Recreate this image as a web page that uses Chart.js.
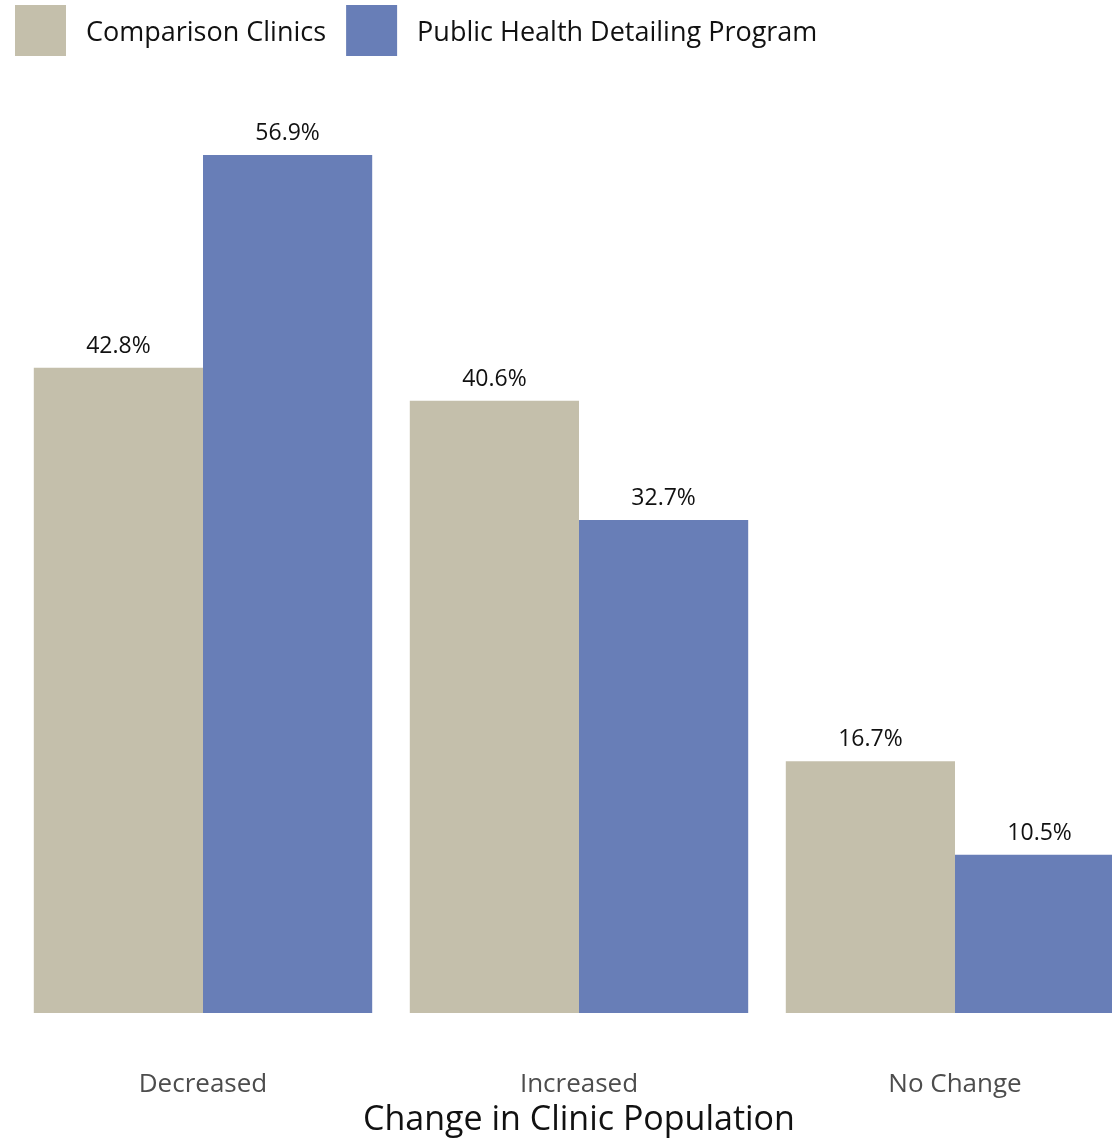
<!DOCTYPE html>
<html lang="en">
<head>
  <meta charset="UTF-8" />
  <title>Change in Clinic Population</title>
  <script src="https://cdn.jsdelivr.net/npm/chart.js"></script>
  <style>
    html, body { margin: 0; padding: 0; background: #fff; overflow: hidden; }
    #wrap { width: 1150px; height: 1141px; position: relative; }
  </style>
</head>
<body>
  <div id="wrap"><canvas id="chart"></canvas></div>

  <script>
    const categories = ['Decreased', 'Increased', 'No Change'];
    const seriesNames = ['Comparison Clinics', 'Public Health Detailing Program'];
    const comparison = [42.8, 40.6, 16.7];
    const detailing = [56.9, 32.7, 10.5];
    const colors = ['#c4bfab', '#687eb7'];

    const FONT = "'Open Sans', 'DejaVu Sans', sans-serif";

    // percent value above each bar
    const valueLabels = {
      id: 'valueLabels',
      afterDatasetsDraw(chart) {
        const ctx = chart.ctx;
        ctx.save();
        ctx.font = '23px ' + FONT;
        ctx.fillStyle = '#111';
        ctx.textAlign = 'center';
        ctx.textBaseline = 'bottom';
        chart.data.datasets.forEach((ds, i) => {
          chart.getDatasetMeta(i).data.forEach((bar, j) => {
            ctx.fillText(ds.data[j].toFixed(1) + '%', bar.x, bar.y - 10);
          });
        });
        ctx.restore();
      }
    };

    // legend row at the top-left, ggplot style (big squares)
    const topLegend = {
      id: 'topLegend',
      afterDraw(chart) {
        const ctx = chart.ctx;
        ctx.save();
        ctx.font = '27px ' + FONT;
        ctx.textBaseline = 'middle';
        ctx.textAlign = 'left';
        let x = 15;
        chart.data.datasets.forEach(ds => {
          ctx.fillStyle = ds.backgroundColor;
          ctx.fillRect(x, 5, 51, 51);
          x += 51 + 20;
          ctx.fillStyle = '#111';
          ctx.fillText(ds.label, x, 33);
          x += ctx.measureText(ds.label).width + 20;
        });
        ctx.restore();
      }
    };

    new Chart(document.getElementById('chart'), {
      type: 'bar',
      data: {
        labels: categories,
        datasets: [
          { label: seriesNames[0], data: comparison, backgroundColor: colors[0] },
          { label: seriesNames[1], data: detailing, backgroundColor: colors[1] }
        ]
      },
      plugins: [valueLabels, topLegend],
      options: {
        responsive: true,
        maintainAspectRatio: false,
        animation: false,
        categoryPercentage: 0.9,
        barPercentage: 1,
        layout: { padding: { left: 15, right: 7, top: 70, bottom: 0 } },
        plugins: {
          legend: { display: false },
          tooltip: { enabled: false }
        },
        scales: {
          x: {
            grid: { display: false, drawTicks: false },
            border: { display: false },
            ticks: { color: '#4d4d4d', padding: 0, font: { family: FONT, size: 26 } },
            title: {
              display: true,
              text: 'Change in Clinic Population',
              color: '#111',
              padding: 0,
              font: { family: FONT, size: 34 }
            }
          },
          y: {
            display: false,
            min: -3.71,
            max: 62.54
          }
        }
      }
    });
  </script>
</body>
</html>
